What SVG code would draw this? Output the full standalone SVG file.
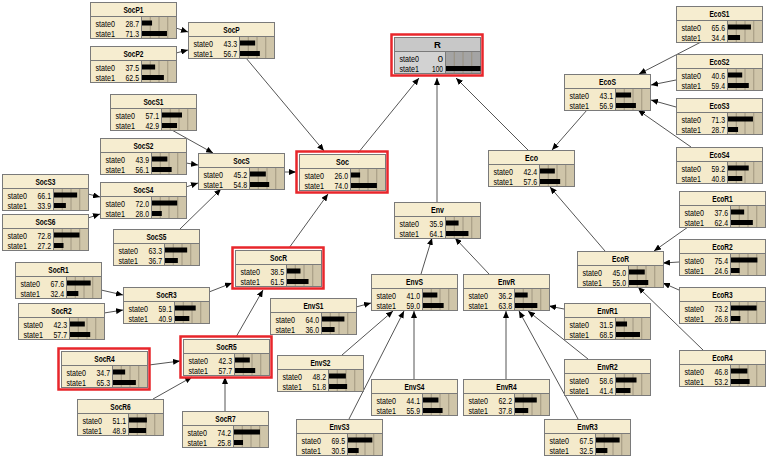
<svg xmlns="http://www.w3.org/2000/svg" xmlns:xlink="http://www.w3.org/1999/xlink" width="767" height="457" viewBox="0 0 767 457">
<style>
.box{fill:#f4eacb;stroke:#7a7a7a;stroke-width:1}
.ttl{fill:#f6edd0;stroke:#7a7a7a;stroke-width:1}
.bbg{fill:#cfc5a9;stroke:#7a7a7a;stroke-width:1}
.grid{stroke:#958c76;stroke-width:0.8;fill:none}
.boxR{fill:#d2d2d2;stroke:#7a7a7a;stroke-width:1}
.ttlR{fill:#c8c8c8;stroke:#7a7a7a;stroke-width:1}
.bbgR{fill:#a4a4a4;stroke:#7a7a7a;stroke-width:1}
.hl{fill:none;stroke:#e8262b;stroke-width:2.5}
text{font-family:"Liberation Sans",Arial,sans-serif;fill:#000}
.t{font-size:9.5px;font-weight:bold;text-anchor:middle}
.s{font-size:9.5px}
.v{font-size:9.5px;text-anchor:end}
.bar{fill:#000}
.edge{stroke:#555;stroke-width:1;fill:none;marker-end:url(#arr)}
</style>
<defs>
<marker id="arr" markerUnits="userSpaceOnUse" markerWidth="7" markerHeight="6" refX="7" refY="3" orient="auto">
<path d="M0,0 L7,3 L0,6 z" fill="#000"/>
</marker>
<g id="frame">
<rect class="box" x="0.5" y="0.5" width="86" height="36"/>
<rect class="ttl" x="0.5" y="0.5" width="86" height="14"/>
<rect class="bbg" x="51.5" y="14.5" width="35" height="22"/>
<path class="grid" d="M60.25 15V36M69 15V36M77.75 15V36"/>
</g>
<g id="frameR">
<rect class="boxR" x="0.5" y="0.5" width="86" height="36"/>
<rect class="ttlR" x="0.5" y="0.5" width="86" height="14"/>
<rect class="bbgR" x="51.5" y="14.5" width="35" height="22"/>
<path class="grid" d="M60.25 15V36M69 15V36M77.75 15V36" stroke="#777"/>
</g>
<g id="lbl">
<text class="s" x="5.5" y="25" textLength="19.5" lengthAdjust="spacingAndGlyphs">state0</text>
<text class="s" x="5.5" y="35" textLength="19.5" lengthAdjust="spacingAndGlyphs">state1</text>
</g>
</defs>
<rect width="767" height="457" fill="#fff"/>

<g id="connectors">
<path class="edge" d="M176 28L188 32"/>
<path class="edge" d="M176 53L188 50"/>
<path class="edge" d="M246 58L324 151"/>
<path class="edge" d="M170 129L213 153"/>
<path class="edge" d="M186 163L198 165"/>
<path class="edge" d="M88 194L100 197"/>
<path class="edge" d="M88 218L100 214"/>
<path class="edge" d="M186 187L198 183"/>
<path class="edge" d="M180 229L221 189"/>
<path class="edge" d="M284 172L296 172"/>
<path class="edge" d="M289 248L328 194"/>
<path class="edge" d="M358 153L419 78"/>
<path class="edge" d="M437 202L437 78"/>
<path class="edge" d="M528 150L456 78"/>
<path class="edge" d="M587 110L552 150"/>
<path class="edge" d="M701 42L639 74"/>
<path class="edge" d="M676 80L651 85"/>
<path class="edge" d="M676 107L651 100"/>
<path class="edge" d="M691 147L638 110"/>
<path class="edge" d="M605 251L550 187"/>
<path class="edge" d="M688 227L654 251"/>
<path class="edge" d="M679 262L663 263"/>
<path class="edge" d="M679 290L663 283"/>
<path class="edge" d="M703 350L638 287"/>
<path class="edge" d="M564 309L549 306"/>
<path class="edge" d="M588 359L528 311"/>
<path class="edge" d="M578 419L519 311"/>
<path class="edge" d="M506 379L506 311"/>
<path class="edge" d="M489 274L455 238"/>
<path class="edge" d="M421 274L432 238"/>
<path class="edge" d="M356 307L371 303"/>
<path class="edge" d="M342 355L393 311"/>
<path class="edge" d="M349 419L404 311"/>
<path class="edge" d="M414 379L414 311"/>
<path class="edge" d="M209 292L232 283"/>
<path class="edge" d="M101 290L123 295"/>
<path class="edge" d="M104 313L123 310"/>
<path class="edge" d="M236 337L263 290"/>
<path class="edge" d="M149 365L180 361"/>
<path class="edge" d="M153 399L192 377"/>
<path class="edge" d="M225 411L225 377"/>
</g>

<g id="nodes">
<g id="SocP1" transform="translate(90,2)"><use href="#frame"/><text class="t" x="43.5" y="11" textLength="20" lengthAdjust="spacingAndGlyphs">SocP1</text><use href="#lbl"/><text class="v" x="49" y="25" textLength="13.5" lengthAdjust="spacingAndGlyphs">28.7</text><text class="v" x="49" y="35" textLength="13.5" lengthAdjust="spacingAndGlyphs">71.3</text><rect class="bar" x="52" y="18.5" width="10.05" height="5"/><rect class="bar" x="52" y="29" width="24.96" height="5"/></g>
<g id="SocP2" transform="translate(90,46)"><use href="#frame"/><text class="t" x="43.5" y="11" textLength="20" lengthAdjust="spacingAndGlyphs">SocP2</text><use href="#lbl"/><text class="v" x="49" y="25" textLength="13.5" lengthAdjust="spacingAndGlyphs">37.5</text><text class="v" x="49" y="35" textLength="13.5" lengthAdjust="spacingAndGlyphs">62.5</text><rect class="bar" x="52" y="18.5" width="13.13" height="5"/><rect class="bar" x="52" y="29" width="21.88" height="5"/></g>
<g id="SocP" transform="translate(188,22)"><use href="#frame"/><text class="t" x="43.5" y="11" textLength="16.5" lengthAdjust="spacingAndGlyphs">SocP</text><use href="#lbl"/><text class="v" x="49" y="25" textLength="13.5" lengthAdjust="spacingAndGlyphs">43.3</text><text class="v" x="49" y="35" textLength="13.5" lengthAdjust="spacingAndGlyphs">56.7</text><rect class="bar" x="52" y="18.5" width="15.16" height="5"/><rect class="bar" x="52" y="29" width="19.85" height="5"/></g>
<g id="SocS1" transform="translate(110,94)"><use href="#frame"/><text class="t" x="43.5" y="11" textLength="20" lengthAdjust="spacingAndGlyphs">SocS1</text><use href="#lbl"/><text class="v" x="49" y="25" textLength="13.5" lengthAdjust="spacingAndGlyphs">57.1</text><text class="v" x="49" y="35" textLength="13.5" lengthAdjust="spacingAndGlyphs">42.9</text><rect class="bar" x="52" y="18.5" width="19.99" height="5"/><rect class="bar" x="52" y="29" width="15.02" height="5"/></g>
<g id="SocS2" transform="translate(100,138)"><use href="#frame"/><text class="t" x="43.5" y="11" textLength="20" lengthAdjust="spacingAndGlyphs">SocS2</text><use href="#lbl"/><text class="v" x="49" y="25" textLength="13.5" lengthAdjust="spacingAndGlyphs">43.9</text><text class="v" x="49" y="35" textLength="13.5" lengthAdjust="spacingAndGlyphs">56.1</text><rect class="bar" x="52" y="18.5" width="15.37" height="5"/><rect class="bar" x="52" y="29" width="19.64" height="5"/></g>
<g id="SocS" transform="translate(198,153)"><use href="#frame"/><text class="t" x="43.5" y="11" textLength="16.5" lengthAdjust="spacingAndGlyphs">SocS</text><use href="#lbl"/><text class="v" x="49" y="25" textLength="13.5" lengthAdjust="spacingAndGlyphs">45.2</text><text class="v" x="49" y="35" textLength="13.5" lengthAdjust="spacingAndGlyphs">54.8</text><rect class="bar" x="52" y="18.5" width="15.82" height="5"/><rect class="bar" x="52" y="29" width="19.18" height="5"/></g>
<g id="SocS3" transform="translate(2,174)"><use href="#frame"/><text class="t" x="43.5" y="11" textLength="20" lengthAdjust="spacingAndGlyphs">SocS3</text><use href="#lbl"/><text class="v" x="49" y="25" textLength="13.5" lengthAdjust="spacingAndGlyphs">66.1</text><text class="v" x="49" y="35" textLength="13.5" lengthAdjust="spacingAndGlyphs">33.9</text><rect class="bar" x="52" y="18.5" width="23.14" height="5"/><rect class="bar" x="52" y="29" width="11.87" height="5"/></g>
<g id="SocS4" transform="translate(100,182)"><use href="#frame"/><text class="t" x="43.5" y="11" textLength="20" lengthAdjust="spacingAndGlyphs">SocS4</text><use href="#lbl"/><text class="v" x="49" y="25" textLength="13.5" lengthAdjust="spacingAndGlyphs">72.0</text><text class="v" x="49" y="35" textLength="13.5" lengthAdjust="spacingAndGlyphs">28.0</text><rect class="bar" x="52" y="18.5" width="25.2" height="5"/><rect class="bar" x="52" y="29" width="9.8" height="5"/></g>
<g id="SocS6" transform="translate(2,214)"><use href="#frame"/><text class="t" x="43.5" y="11" textLength="20" lengthAdjust="spacingAndGlyphs">SocS6</text><use href="#lbl"/><text class="v" x="49" y="25" textLength="13.5" lengthAdjust="spacingAndGlyphs">72.8</text><text class="v" x="49" y="35" textLength="13.5" lengthAdjust="spacingAndGlyphs">27.2</text><rect class="bar" x="52" y="18.5" width="25.48" height="5"/><rect class="bar" x="52" y="29" width="9.52" height="5"/></g>
<g id="SocS5" transform="translate(113,229)"><use href="#frame"/><text class="t" x="43.5" y="11" textLength="20" lengthAdjust="spacingAndGlyphs">SocS5</text><use href="#lbl"/><text class="v" x="49" y="25" textLength="13.5" lengthAdjust="spacingAndGlyphs">63.3</text><text class="v" x="49" y="35" textLength="13.5" lengthAdjust="spacingAndGlyphs">36.7</text><rect class="bar" x="52" y="18.5" width="22.16" height="5"/><rect class="bar" x="52" y="29" width="12.85" height="5"/></g>
<g id="SocR1" transform="translate(15,262)"><use href="#frame"/><text class="t" x="43.5" y="11" textLength="20.5" lengthAdjust="spacingAndGlyphs">SocR1</text><use href="#lbl"/><text class="v" x="49" y="25" textLength="13.5" lengthAdjust="spacingAndGlyphs">67.6</text><text class="v" x="49" y="35" textLength="13.5" lengthAdjust="spacingAndGlyphs">32.4</text><rect class="bar" x="52" y="18.5" width="23.66" height="5"/><rect class="bar" x="52" y="29" width="11.34" height="5"/></g>
<g id="SocR2" transform="translate(18,303)"><use href="#frame"/><text class="t" x="43.5" y="11" textLength="20.5" lengthAdjust="spacingAndGlyphs">SocR2</text><use href="#lbl"/><text class="v" x="49" y="25" textLength="13.5" lengthAdjust="spacingAndGlyphs">42.3</text><text class="v" x="49" y="35" textLength="13.5" lengthAdjust="spacingAndGlyphs">57.7</text><rect class="bar" x="52" y="18.5" width="14.81" height="5"/><rect class="bar" x="52" y="29" width="20.2" height="5"/></g>
<g id="SocR3" transform="translate(123,287)"><use href="#frame"/><text class="t" x="43.5" y="11" textLength="20.5" lengthAdjust="spacingAndGlyphs">SocR3</text><use href="#lbl"/><text class="v" x="49" y="25" textLength="13.5" lengthAdjust="spacingAndGlyphs">59.1</text><text class="v" x="49" y="35" textLength="13.5" lengthAdjust="spacingAndGlyphs">40.9</text><rect class="bar" x="52" y="18.5" width="20.69" height="5"/><rect class="bar" x="52" y="29" width="14.32" height="5"/></g>
<g id="SocR" transform="translate(235,250)"><rect class="hl" x="-2.5" y="-2.5" width="91" height="41"/><use href="#frame"/><text class="t" x="43.5" y="11" textLength="17" lengthAdjust="spacingAndGlyphs">SocR</text><use href="#lbl"/><text class="v" x="49" y="25" textLength="13.5" lengthAdjust="spacingAndGlyphs">38.5</text><text class="v" x="49" y="35" textLength="13.5" lengthAdjust="spacingAndGlyphs">61.5</text><rect class="bar" x="52" y="18.5" width="13.48" height="5"/><rect class="bar" x="52" y="29" width="21.53" height="5"/></g>
<g id="Soc" transform="translate(299,154)"><rect class="hl" x="-2.5" y="-2.5" width="91" height="41"/><use href="#frame"/><text class="t" x="43.5" y="11" textLength="13" lengthAdjust="spacingAndGlyphs">Soc</text><use href="#lbl"/><text class="v" x="49" y="25" textLength="13.5" lengthAdjust="spacingAndGlyphs">26.0</text><text class="v" x="49" y="35" textLength="13.5" lengthAdjust="spacingAndGlyphs">74.0</text><rect class="bar" x="52" y="18.5" width="9.1" height="5"/><rect class="bar" x="52" y="29" width="25.9" height="5"/></g>
<g id="SocR4" transform="translate(61,351)"><rect class="hl" x="-2.5" y="-2.5" width="91" height="41"/><use href="#frame"/><text class="t" x="43.5" y="11" textLength="20.5" lengthAdjust="spacingAndGlyphs">SocR4</text><use href="#lbl"/><text class="v" x="49" y="25" textLength="13.5" lengthAdjust="spacingAndGlyphs">34.7</text><text class="v" x="49" y="35" textLength="13.5" lengthAdjust="spacingAndGlyphs">65.3</text><rect class="bar" x="52" y="18.5" width="12.15" height="5"/><rect class="bar" x="52" y="29" width="22.86" height="5"/></g>
<g id="SocR5" transform="translate(183,339)"><rect class="hl" x="-2.5" y="-2.5" width="91" height="41"/><use href="#frame"/><text class="t" x="43.5" y="11" textLength="20.5" lengthAdjust="spacingAndGlyphs">SocR5</text><use href="#lbl"/><text class="v" x="49" y="25" textLength="13.5" lengthAdjust="spacingAndGlyphs">42.3</text><text class="v" x="49" y="35" textLength="13.5" lengthAdjust="spacingAndGlyphs">57.7</text><rect class="bar" x="52" y="18.5" width="14.81" height="5"/><rect class="bar" x="52" y="29" width="20.2" height="5"/></g>
<g id="SocR6" transform="translate(77,399)"><use href="#frame"/><text class="t" x="43.5" y="11" textLength="20.5" lengthAdjust="spacingAndGlyphs">SocR6</text><use href="#lbl"/><text class="v" x="49" y="25" textLength="13.5" lengthAdjust="spacingAndGlyphs">51.1</text><text class="v" x="49" y="35" textLength="13.5" lengthAdjust="spacingAndGlyphs">48.9</text><rect class="bar" x="52" y="18.5" width="17.89" height="5"/><rect class="bar" x="52" y="29" width="17.12" height="5"/></g>
<g id="SocR7" transform="translate(182,411)"><use href="#frame"/><text class="t" x="43.5" y="11" textLength="20.5" lengthAdjust="spacingAndGlyphs">SocR7</text><use href="#lbl"/><text class="v" x="49" y="25" textLength="13.5" lengthAdjust="spacingAndGlyphs">74.2</text><text class="v" x="49" y="35" textLength="13.5" lengthAdjust="spacingAndGlyphs">25.8</text><rect class="bar" x="52" y="18.5" width="25.97" height="5"/><rect class="bar" x="52" y="29" width="9.03" height="5"/></g>
<g id="R" transform="translate(394,37)"><rect class="hl" x="-2.5" y="-2.5" width="91" height="41"/><use href="#frameR"/><text class="t" x="43.5" y="11">R</text><use href="#lbl"/><text class="v" x="49" y="25">0</text><text class="v" x="49" y="35" textLength="11" lengthAdjust="spacingAndGlyphs">100</text><rect class="bar" x="52" y="29" width="34.5" height="5"/></g>
<g id="Env" transform="translate(394,202)"><use href="#frame"/><text class="t" x="43.5" y="11" textLength="13" lengthAdjust="spacingAndGlyphs">Env</text><use href="#lbl"/><text class="v" x="49" y="25" textLength="13.5" lengthAdjust="spacingAndGlyphs">35.9</text><text class="v" x="49" y="35" textLength="13.5" lengthAdjust="spacingAndGlyphs">64.1</text><rect class="bar" x="52" y="18.5" width="12.57" height="5"/><rect class="bar" x="52" y="29" width="22.44" height="5"/></g>
<g id="EnvS" transform="translate(371,274)"><use href="#frame"/><text class="t" x="43.5" y="11" textLength="17" lengthAdjust="spacingAndGlyphs">EnvS</text><use href="#lbl"/><text class="v" x="49" y="25" textLength="13.5" lengthAdjust="spacingAndGlyphs">41.0</text><text class="v" x="49" y="35" textLength="13.5" lengthAdjust="spacingAndGlyphs">59.0</text><rect class="bar" x="52" y="18.5" width="14.35" height="5"/><rect class="bar" x="52" y="29" width="20.65" height="5"/></g>
<g id="EnvR" transform="translate(463,274)"><use href="#frame"/><text class="t" x="43.5" y="11" textLength="17" lengthAdjust="spacingAndGlyphs">EnvR</text><use href="#lbl"/><text class="v" x="49" y="25" textLength="13.5" lengthAdjust="spacingAndGlyphs">36.2</text><text class="v" x="49" y="35" textLength="13.5" lengthAdjust="spacingAndGlyphs">63.8</text><rect class="bar" x="52" y="18.5" width="12.67" height="5"/><rect class="bar" x="52" y="29" width="22.33" height="5"/></g>
<g id="EnvS1" transform="translate(270,298)"><use href="#frame"/><text class="t" x="43.5" y="11" textLength="20" lengthAdjust="spacingAndGlyphs">EnvS1</text><use href="#lbl"/><text class="v" x="49" y="25" textLength="13.5" lengthAdjust="spacingAndGlyphs">64.0</text><text class="v" x="49" y="35" textLength="13.5" lengthAdjust="spacingAndGlyphs">36.0</text><rect class="bar" x="52" y="18.5" width="22.4" height="5"/><rect class="bar" x="52" y="29" width="12.6" height="5"/></g>
<g id="EnvS2" transform="translate(277,355)"><use href="#frame"/><text class="t" x="43.5" y="11" textLength="20" lengthAdjust="spacingAndGlyphs">EnvS2</text><use href="#lbl"/><text class="v" x="49" y="25" textLength="13.5" lengthAdjust="spacingAndGlyphs">48.2</text><text class="v" x="49" y="35" textLength="13.5" lengthAdjust="spacingAndGlyphs">51.8</text><rect class="bar" x="52" y="18.5" width="16.87" height="5"/><rect class="bar" x="52" y="29" width="18.13" height="5"/></g>
<g id="EnvS4" transform="translate(371,379)"><use href="#frame"/><text class="t" x="43.5" y="11" textLength="20" lengthAdjust="spacingAndGlyphs">EnvS4</text><use href="#lbl"/><text class="v" x="49" y="25" textLength="13.5" lengthAdjust="spacingAndGlyphs">44.1</text><text class="v" x="49" y="35" textLength="13.5" lengthAdjust="spacingAndGlyphs">55.9</text><rect class="bar" x="52" y="18.5" width="15.44" height="5"/><rect class="bar" x="52" y="29" width="19.57" height="5"/></g>
<g id="EnvS3" transform="translate(296,419)"><use href="#frame"/><text class="t" x="43.5" y="11" textLength="20" lengthAdjust="spacingAndGlyphs">EnvS3</text><use href="#lbl"/><text class="v" x="49" y="25" textLength="13.5" lengthAdjust="spacingAndGlyphs">69.5</text><text class="v" x="49" y="35" textLength="13.5" lengthAdjust="spacingAndGlyphs">30.5</text><rect class="bar" x="52" y="18.5" width="24.33" height="5"/><rect class="bar" x="52" y="29" width="10.68" height="5"/></g>
<g id="EnvR4" transform="translate(463,379)"><use href="#frame"/><text class="t" x="43.5" y="11" textLength="20.5" lengthAdjust="spacingAndGlyphs">EnvR4</text><use href="#lbl"/><text class="v" x="49" y="25" textLength="13.5" lengthAdjust="spacingAndGlyphs">62.2</text><text class="v" x="49" y="35" textLength="13.5" lengthAdjust="spacingAndGlyphs">37.8</text><rect class="bar" x="52" y="18.5" width="21.77" height="5"/><rect class="bar" x="52" y="29" width="13.23" height="5"/></g>
<g id="EnvR1" transform="translate(564,303)"><use href="#frame"/><text class="t" x="43.5" y="11" textLength="20.5" lengthAdjust="spacingAndGlyphs">EnvR1</text><use href="#lbl"/><text class="v" x="49" y="25" textLength="13.5" lengthAdjust="spacingAndGlyphs">31.5</text><text class="v" x="49" y="35" textLength="13.5" lengthAdjust="spacingAndGlyphs">68.5</text><rect class="bar" x="52" y="18.5" width="11.03" height="5"/><rect class="bar" x="52" y="29" width="23.98" height="5"/></g>
<g id="EnvR2" transform="translate(564,359)"><use href="#frame"/><text class="t" x="43.5" y="11" textLength="20.5" lengthAdjust="spacingAndGlyphs">EnvR2</text><use href="#lbl"/><text class="v" x="49" y="25" textLength="13.5" lengthAdjust="spacingAndGlyphs">58.6</text><text class="v" x="49" y="35" textLength="13.5" lengthAdjust="spacingAndGlyphs">41.4</text><rect class="bar" x="52" y="18.5" width="20.51" height="5"/><rect class="bar" x="52" y="29" width="14.49" height="5"/></g>
<g id="EnvR3" transform="translate(544,419)"><use href="#frame"/><text class="t" x="43.5" y="11" textLength="20.5" lengthAdjust="spacingAndGlyphs">EnvR3</text><use href="#lbl"/><text class="v" x="49" y="25" textLength="13.5" lengthAdjust="spacingAndGlyphs">67.5</text><text class="v" x="49" y="35" textLength="13.5" lengthAdjust="spacingAndGlyphs">32.5</text><rect class="bar" x="52" y="18.5" width="23.63" height="5"/><rect class="bar" x="52" y="29" width="11.38" height="5"/></g>
<g id="Eco" transform="translate(488,150)"><use href="#frame"/><text class="t" x="43.5" y="11" textLength="13" lengthAdjust="spacingAndGlyphs">Eco</text><use href="#lbl"/><text class="v" x="49" y="25" textLength="13.5" lengthAdjust="spacingAndGlyphs">42.4</text><text class="v" x="49" y="35" textLength="13.5" lengthAdjust="spacingAndGlyphs">57.6</text><rect class="bar" x="52" y="18.5" width="14.84" height="5"/><rect class="bar" x="52" y="29" width="20.16" height="5"/></g>
<g id="EcoS" transform="translate(564,74)"><use href="#frame"/><text class="t" x="43.5" y="11" textLength="17" lengthAdjust="spacingAndGlyphs">EcoS</text><use href="#lbl"/><text class="v" x="49" y="25" textLength="13.5" lengthAdjust="spacingAndGlyphs">43.1</text><text class="v" x="49" y="35" textLength="13.5" lengthAdjust="spacingAndGlyphs">56.9</text><rect class="bar" x="52" y="18.5" width="15.09" height="5"/><rect class="bar" x="52" y="29" width="19.92" height="5"/></g>
<g id="EcoS1" transform="translate(676,6)"><use href="#frame"/><text class="t" x="43.5" y="11" textLength="20" lengthAdjust="spacingAndGlyphs">EcoS1</text><use href="#lbl"/><text class="v" x="49" y="25" textLength="13.5" lengthAdjust="spacingAndGlyphs">65.6</text><text class="v" x="49" y="35" textLength="13.5" lengthAdjust="spacingAndGlyphs">34.4</text><rect class="bar" x="52" y="18.5" width="22.96" height="5"/><rect class="bar" x="52" y="29" width="12.04" height="5"/></g>
<g id="EcoS2" transform="translate(676,54)"><use href="#frame"/><text class="t" x="43.5" y="11" textLength="20" lengthAdjust="spacingAndGlyphs">EcoS2</text><use href="#lbl"/><text class="v" x="49" y="25" textLength="13.5" lengthAdjust="spacingAndGlyphs">40.6</text><text class="v" x="49" y="35" textLength="13.5" lengthAdjust="spacingAndGlyphs">59.4</text><rect class="bar" x="52" y="18.5" width="14.21" height="5"/><rect class="bar" x="52" y="29" width="20.79" height="5"/></g>
<g id="EcoS3" transform="translate(676,98)"><use href="#frame"/><text class="t" x="43.5" y="11" textLength="20" lengthAdjust="spacingAndGlyphs">EcoS3</text><use href="#lbl"/><text class="v" x="49" y="25" textLength="13.5" lengthAdjust="spacingAndGlyphs">71.3</text><text class="v" x="49" y="35" textLength="13.5" lengthAdjust="spacingAndGlyphs">28.7</text><rect class="bar" x="52" y="18.5" width="24.96" height="5"/><rect class="bar" x="52" y="29" width="10.05" height="5"/></g>
<g id="EcoS4" transform="translate(676,147)"><use href="#frame"/><text class="t" x="43.5" y="11" textLength="20" lengthAdjust="spacingAndGlyphs">EcoS4</text><use href="#lbl"/><text class="v" x="49" y="25" textLength="13.5" lengthAdjust="spacingAndGlyphs">59.2</text><text class="v" x="49" y="35" textLength="13.5" lengthAdjust="spacingAndGlyphs">40.8</text><rect class="bar" x="52" y="18.5" width="20.72" height="5"/><rect class="bar" x="52" y="29" width="14.28" height="5"/></g>
<g id="EcoR" transform="translate(577,251)"><use href="#frame"/><text class="t" x="43.5" y="11" textLength="17" lengthAdjust="spacingAndGlyphs">EcoR</text><use href="#lbl"/><text class="v" x="49" y="25" textLength="13.5" lengthAdjust="spacingAndGlyphs">45.0</text><text class="v" x="49" y="35" textLength="13.5" lengthAdjust="spacingAndGlyphs">55.0</text><rect class="bar" x="52" y="18.5" width="15.75" height="5"/><rect class="bar" x="52" y="29" width="19.25" height="5"/></g>
<g id="EcoR1" transform="translate(679,191)"><use href="#frame"/><text class="t" x="43.5" y="11" textLength="20.5" lengthAdjust="spacingAndGlyphs">EcoR1</text><use href="#lbl"/><text class="v" x="49" y="25" textLength="13.5" lengthAdjust="spacingAndGlyphs">37.6</text><text class="v" x="49" y="35" textLength="13.5" lengthAdjust="spacingAndGlyphs">62.4</text><rect class="bar" x="52" y="18.5" width="13.16" height="5"/><rect class="bar" x="52" y="29" width="21.84" height="5"/></g>
<g id="EcoR2" transform="translate(679,239)"><use href="#frame"/><text class="t" x="43.5" y="11" textLength="20.5" lengthAdjust="spacingAndGlyphs">EcoR2</text><use href="#lbl"/><text class="v" x="49" y="25" textLength="13.5" lengthAdjust="spacingAndGlyphs">75.4</text><text class="v" x="49" y="35" textLength="13.5" lengthAdjust="spacingAndGlyphs">24.6</text><rect class="bar" x="52" y="18.5" width="26.39" height="5"/><rect class="bar" x="52" y="29" width="8.61" height="5"/></g>
<g id="EcoR3" transform="translate(679,287)"><use href="#frame"/><text class="t" x="43.5" y="11" textLength="20.5" lengthAdjust="spacingAndGlyphs">EcoR3</text><use href="#lbl"/><text class="v" x="49" y="25" textLength="13.5" lengthAdjust="spacingAndGlyphs">73.2</text><text class="v" x="49" y="35" textLength="13.5" lengthAdjust="spacingAndGlyphs">26.8</text><rect class="bar" x="52" y="18.5" width="25.62" height="5"/><rect class="bar" x="52" y="29" width="9.38" height="5"/></g>
<g id="EcoR4" transform="translate(679,350)"><use href="#frame"/><text class="t" x="43.5" y="11" textLength="20.5" lengthAdjust="spacingAndGlyphs">EcoR4</text><use href="#lbl"/><text class="v" x="49" y="25" textLength="13.5" lengthAdjust="spacingAndGlyphs">46.8</text><text class="v" x="49" y="35" textLength="13.5" lengthAdjust="spacingAndGlyphs">53.2</text><rect class="bar" x="52" y="18.5" width="16.38" height="5"/><rect class="bar" x="52" y="29" width="18.62" height="5"/></g>
</g>
</svg>
